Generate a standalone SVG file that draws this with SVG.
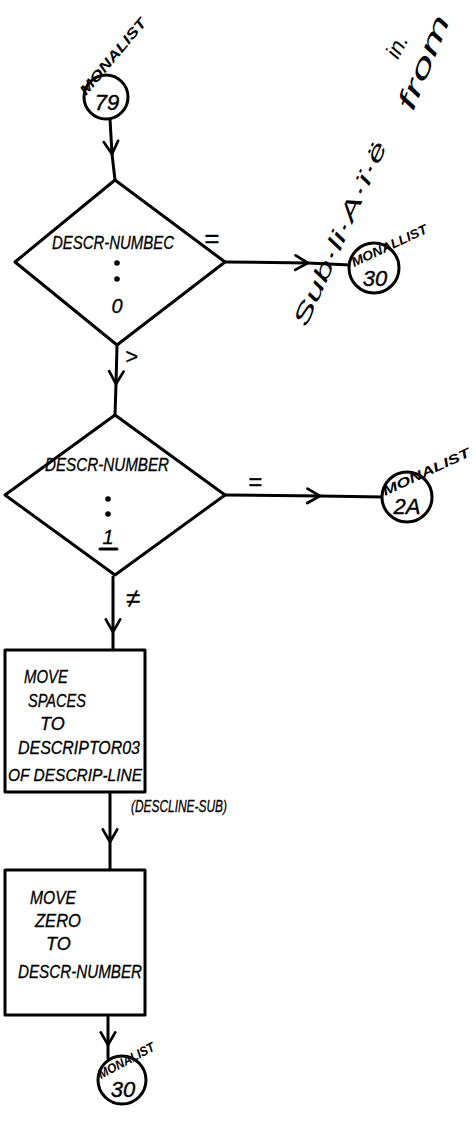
<svg xmlns="http://www.w3.org/2000/svg" width="476" height="1135" viewBox="0 0 476 1135">
<defs>
<style>
.ln{stroke:#000;stroke-width:3;fill:none;stroke-linecap:round;stroke-linejoin:round}
.sh{stroke:#000;stroke-width:3;fill:#fff;stroke-linejoin:round}
.t{font-family:"Liberation Sans",Arial,sans-serif;font-style:italic;font-size:18px;fill:#000;stroke:#000;stroke-width:0.3}
.tl{font-family:"Liberation Sans",Arial,sans-serif;font-style:italic;font-size:13px;fill:#000;font-weight:bold}
.tn{font-family:"Liberation Sans",Arial,sans-serif;font-style:italic;font-size:22px;fill:#000;stroke:#000;stroke-width:0.4}
.sc{font-family:"Liberation Sans",Arial,sans-serif;font-style:italic;font-size:22px;fill:#000}
.dot{fill:#000}
</style>
<marker id="chev" viewBox="0 0 10 10" refX="8" refY="5" markerWidth="18" markerHeight="18" markerUnits="userSpaceOnUse" orient="auto">
<path d="M1,1 L8,5 L1,9" fill="none" stroke="#000" stroke-width="1.5" stroke-linecap="round"/>
</marker>
</defs>
<rect width="476" height="1135" fill="#fff"/>

<g id="connectors">
<path class="ln" d="M110,119 L112,154 L115,180" marker-mid="url(#chev)"/>
<path class="ln" d="M225,262 L308,263 L350,265" marker-mid="url(#chev)"/>
<path class="ln" d="M117,345 L116,384 L115,415" marker-mid="url(#chev)"/>
<path class="ln" d="M225,495 L320,496 L383,497" marker-mid="url(#chev)"/>
<path class="ln" d="M113,577 L113,632 L113,650" marker-mid="url(#chev)"/>
<path class="ln" d="M110,792 L110,842 L110,870" marker-mid="url(#chev)"/>
<path class="ln" d="M108,1015 L108,1045 L108,1058" marker-mid="url(#chev)"/>
<text class="t" x="204" y="247" style="font-size:26px">=</text>
<text class="t" x="125" y="364" style="font-size:22px">&gt;</text>
<text class="t" x="248" y="490" style="font-size:24px">=</text>
<text class="t" x="126" y="607" style="font-size:26px">≠</text>
</g>

<g id="n_start">
<circle class="sh" cx="106" cy="97" r="22"/>
<text class="tl" transform="translate(86,96) rotate(-50)" style="font-size:14px" textLength="95" lengthAdjust="spacingAndGlyphs">MONALIST</text>
<text class="tn" x="107" y="110" text-anchor="middle">79</text>
</g>

<g id="n_d1">
<path class="sh" d="M115,180 L225,262 L117,345 L15,262 Z"/>
<text class="t" x="52" y="249" textLength="122" lengthAdjust="spacingAndGlyphs">DESCR-NUMBEC</text>
<circle class="dot" cx="117" cy="263" r="2.8"/>
<circle class="dot" cx="117" cy="279" r="2.8"/>
<text class="t" x="117" y="313" style="font-size:20px" text-anchor="middle">0</text>
</g>

<g id="n_c30a">
<circle class="sh" cx="374" cy="268" r="25"/>
<text class="tl" transform="translate(354,267) rotate(-25)" textLength="82" lengthAdjust="spacingAndGlyphs">MONALLIST</text>
<text class="tn" x="375" y="286" text-anchor="middle">30</text>
</g>

<g id="n_d2">
<path class="sh" d="M115,415 L225,495 L115,575 L5,495 Z"/>
<text class="t" x="45" y="471" textLength="124" lengthAdjust="spacingAndGlyphs">DESCR-NUMBER</text>
<circle class="dot" cx="108" cy="499" r="2.8"/>
<circle class="dot" cx="108" cy="514" r="2.8"/>
<text class="t" x="108" y="544" style="font-size:20px" text-anchor="middle">1</text>
<path class="ln" d="M100,549 L117,549" stroke-width="2"/>
</g>

<g id="n_c2a">
<circle class="sh" cx="407" cy="497" r="25"/>
<text class="tl" transform="translate(385,496) rotate(-25)" textLength="95" lengthAdjust="spacingAndGlyphs">MONALIST</text>
<text class="tn" x="407" y="514" text-anchor="middle">2A</text>
</g>

<g id="n_box1">
<rect class="sh" x="5" y="650" width="140" height="142"/>
<text class="t" x="24" y="683" textLength="44" lengthAdjust="spacingAndGlyphs">MOVE</text>
<text class="t" x="28" y="707" textLength="58" lengthAdjust="spacingAndGlyphs">SPACES</text>
<text class="t" x="40" y="730">TO</text>
<text class="t" x="18" y="754" textLength="122" lengthAdjust="spacingAndGlyphs">DESCRIPTOR03</text>
<text class="t" x="8" y="781" style="font-size:17px" textLength="134" lengthAdjust="spacingAndGlyphs">OF DESCRIP-LINE</text>
<text class="t" x="131" y="812" style="font-size:17px" textLength="96" lengthAdjust="spacingAndGlyphs">(DESCLINE-SUB)</text>
</g>

<g id="n_box2">
<rect class="sh" x="5" y="870" width="140" height="145"/>
<text class="t" x="30" y="904" textLength="46" lengthAdjust="spacingAndGlyphs">MOVE</text>
<text class="t" x="35" y="927" textLength="46" lengthAdjust="spacingAndGlyphs">ZERO</text>
<text class="t" x="46" y="950">TO</text>
<text class="t" x="18" y="978" textLength="124" lengthAdjust="spacingAndGlyphs">DESCR-NUMBER</text>
</g>

<g id="n_c30b">
<circle class="sh" cx="122" cy="1080" r="24"/>
<text class="tl" transform="translate(101,1079) rotate(-28)" textLength="62" lengthAdjust="spacingAndGlyphs">MONALIST</text>
<text class="tn" x="123" y="1097" text-anchor="middle">30</text>
</g>

<g id="annotation">
<text class="sc" transform="translate(306,328) rotate(-66)" textLength="200" lengthAdjust="spacingAndGlyphs">Sub·li·A·ï·ë</text>
<text class="sc" transform="translate(398,60) rotate(-62)">in.</text>
<text class="sc" transform="translate(413,112) rotate(-68)" style="font-size:26px" textLength="100" lengthAdjust="spacingAndGlyphs">from</text>
</g>
</svg>
